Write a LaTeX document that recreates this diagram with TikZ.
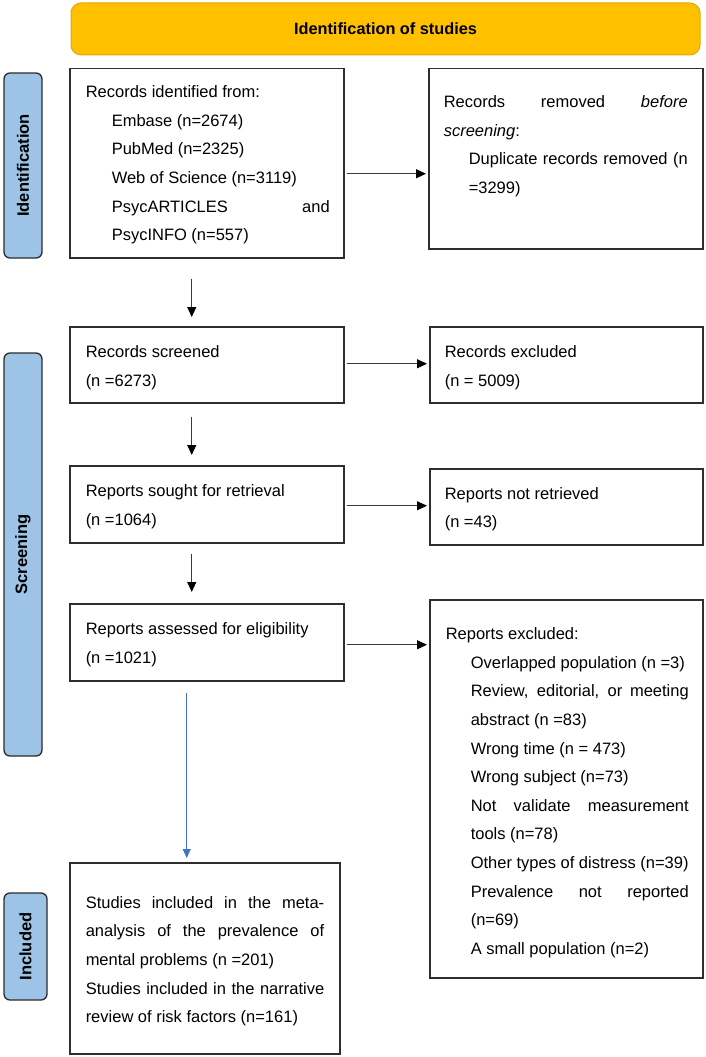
\documentclass[tikz,border=0pt]{standalone}
\usepackage{fontspec}
\setmainfont{Liberation Sans}
\usetikzlibrary{arrows.meta}
\definecolor{bannerfill}{HTML}{FFC000}
\definecolor{bannerdraw}{HTML}{E6A800}
\definecolor{labelfill}{HTML}{9DC3E6}
\definecolor{labeldraw}{HTML}{2B2B2B}
\definecolor{boxdraw}{HTML}{2E2E2E}
\definecolor{arrowc}{HTML}{3A3A3A}
\definecolor{bluearrow}{HTML}{4472C4}
\newcommand{\boxtext}[4]{\parbox[t][#2][t]{#1}{\fontsize{16.5pt}{28.6pt}\selectfont\rule{0pt}{#3}#4}}
\newcommand{\jline}[2]{\makebox[#1][s]{#2}}
\begin{document}
\begin{tikzpicture}[x=1pt,y=1pt,
  stagebox/.style={draw=boxdraw, line width=1.5pt, fill=white, inner sep=0pt, anchor=north west},
  sidelabel/.style={draw=labeldraw, fill=labelfill, line width=1.3pt, rounded corners=6pt, rotate=90, inner sep=0pt, font=\fontsize{16.5pt}{20pt}\selectfont\bfseries},
  arr/.style={draw=arrowc, line width=0.9pt, -{Triangle[length=10pt,width=9pt,color=black]}},
  bluearr/.style={draw=bluearrow, line width=0.8pt, -{Triangle[length=9pt,width=8pt]}}
]
\useasboundingbox (0,0) rectangle (706,-1057);

\node[draw=bannerdraw, fill=bannerfill, line width=1pt, rounded corners=10pt, minimum width=629pt, minimum height=52pt, inner sep=0pt, font=\fontsize{16.3pt}{20pt}\selectfont\bfseries] (banner) at (385.5,-29) {Identification of studies};

\node[sidelabel, minimum width=185pt, minimum height=38pt] (lid) at (23,-165.5) {Identification};
\node[sidelabel, minimum width=403pt, minimum height=38pt] (lsc) at (23,-554.5) {Screening};
\node[sidelabel, minimum width=107pt, minimum height=43pt] (lin) at (25.5,-946.5) {Included};

\node[stagebox] (b1) at (69,-68) {\boxtext{274pt}{189pt}{29pt}{%
\hspace*{16pt}Records identified from:\\
\hspace*{42pt}Embase (n=2674)\\
\hspace*{42pt}PubMed (n=2325)\\
\hspace*{42pt}Web of Science (n=3119)\\
\hspace*{42pt}\jline{218pt}{PsycARTICLES and}\\
\hspace*{42pt}PsycINFO (n=557)}};

\node[stagebox] (b2) at (428,-68) {\boxtext{274pt}{180pt}{39pt}{%
\hspace*{15pt}\jline{244pt}{Records removed \textit{before}}\\
\hspace*{15pt}\textit{screening}:\\
\hspace*{40pt}\jline{219pt}{Duplicate records removed (n}\\
\hspace*{40pt}=3299)}};

\node[stagebox] (b3) at (69,-326) {\boxtext{274pt}{76pt}{31pt}{%
\hspace*{16pt}Records screened\\
\hspace*{16pt}(n =6273)}};

\node[stagebox] (b4) at (429,-326) {\boxtext{273pt}{76pt}{31pt}{%
\hspace*{15pt}Records excluded\\
\hspace*{15pt}(n = 5009)}};

\node[stagebox] (b5) at (69,-465) {\boxtext{274pt}{77pt}{31pt}{%
\hspace*{16pt}Reports sought for retrieval\\
\hspace*{16pt}(n =1064)}};

\node[stagebox] (b6) at (429,-468) {\boxtext{273pt}{76pt}{30.5pt}{%
\hspace*{15pt}Reports not retrieved\\
\hspace*{15pt}(n =43)}};

\node[stagebox] (b7) at (69,-603) {\boxtext{274pt}{77pt}{31pt}{%
\hspace*{16pt}Reports assessed for eligibility\\
\hspace*{16pt}(n =1021)}};

\node[stagebox] (b8) at (429,-599) {\boxtext{273pt}{378pt}{40pt}{%
\hspace*{16pt}Reports excluded:\\
\hspace*{41pt}Overlapped population (n =3)\\
\hspace*{41pt}\jline{218pt}{Review, editorial, or meeting}\\
\hspace*{41pt}abstract (n =83)\\
\hspace*{41pt}Wrong time (n = 473)\\
\hspace*{41pt}Wrong subject (n=73)\\
\hspace*{41pt}\jline{218pt}{Not validate measurement}\\
\hspace*{41pt}tools (n=78)\\
\hspace*{41pt}Other types of distress (n=39)\\
\hspace*{41pt}\jline{218pt}{Prevalence not reported}\\
\hspace*{41pt}(n=69)\\
\hspace*{41pt}A small population (n=2)}};

\node[stagebox] (b9) at (69,-862) {\boxtext{270pt}{191pt}{45.6pt}{%
\hspace*{16pt}\jline{238.5pt}{Studies included in the meta-}\\
\hspace*{16pt}\jline{238.5pt}{analysis of the prevalence of}\\
\hspace*{16pt}mental problems (n =201)\\
\hspace*{16pt}\jline{238.5pt}{Studies included in the narrative}\\
\hspace*{16pt}review of risk factors (n=161)}};

% horizontal arrows
\draw[arr, shorten <=2pt, shorten >=2pt] ([yshift=-10.5pt]b1.east) -- ([yshift=-10.5pt]b1.east -| b2.west);
\draw[arr, shorten <=2pt, shorten >=2pt] ([yshift=1pt]b3.east) -- ([yshift=1pt]b3.east -| b4.west);
\draw[arr, shorten <=2pt, shorten >=2pt] ([yshift=-1.5pt]b5.east) -- ([yshift=-1.5pt]b5.east -| b6.west);
\draw[arr, shorten <=2pt, shorten >=2pt] ([yshift=-2.5pt]b7.east) -- ([yshift=-2.5pt]b7.east -| b8.west);

% vertical arrows
\draw[arr, shorten <=20pt, shorten >=9pt] ([xshift=-15pt]b1.south) -- ([xshift=-15pt]b1.south |- b3.north);
\draw[arr, shorten <=13pt, shorten >=10pt] ([xshift=-15pt]b3.south) -- ([xshift=-15pt]b3.south |- b5.north);
\draw[arr, shorten <=10pt, shorten >=11pt] ([xshift=-15pt]b5.south) -- ([xshift=-15pt]b5.south |- b7.north);
\draw[bluearr, shorten <=11pt, shorten >=4pt] ([xshift=-20pt]b7.south) -- ([xshift=-20pt]b7.south |- b9.north);
\end{tikzpicture}
\end{document}
